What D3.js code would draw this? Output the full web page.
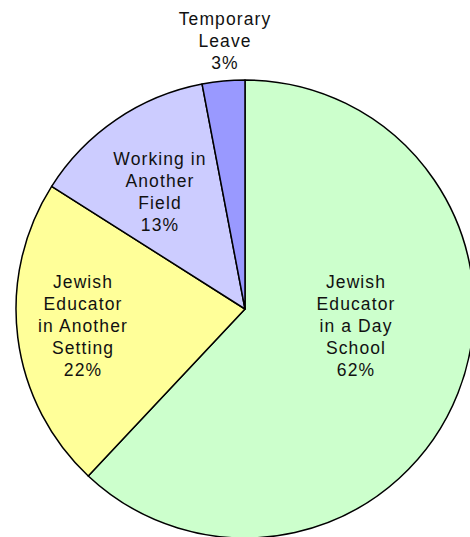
<!DOCTYPE html>
<html>
<head>
<meta charset="utf-8">
<script src="https://cdn.jsdelivr.net/npm/d3@7"></script>
<style>
  body { margin: 0; background: #fff; }
  .lbl { font-family: "Liberation Sans", Arial, sans-serif; font-size: 17.5px; fill: #111; letter-spacing: 1.1px; }
</style>
</head>
<body>
<svg id="chart" width="470" height="537"></svg>
<script>
const categories = ["Jewish Educator in a Day School", "Jewish Educator in Another Setting", "Working in Another Field", "Temporary Leave"];
const values = [62, 22, 13, 3];
const labelLines = [
  ["Jewish", "Educator", "in a Day", "School"],
  ["Jewish", "Educator", "in Another", "Setting"],
  ["Working in", "Another", "Field"],
  ["Temporary", "Leave"]
];
const colors = ["#CCFFCC", "#FFFF99", "#CCCCFF", "#9999FF"];

const cx = 245, cy = 309, radius = 229, lineH = 22;
// where each label block sits, relative to the pie centre (px, first baseline)
const labelPos = [[111, -21], [-162, -21], [-85, -144], [-20, -284]];

const svg = d3.select("#chart");
const g = svg.append("g").attr("transform", `translate(${cx},${cy})`);

const pie = d3.pie().sort(null).value(d => d.v);
const arc = d3.arc().innerRadius(0).outerRadius(radius);
const data = pie(categories.map((c, i) => ({ c, v: values[i], i })));

g.selectAll("path.slice")
  .data(data)
  .enter()
  .append("path")
  .attr("class", "slice")
  .attr("d", arc)
  .attr("fill", d => colors[d.data.i])
  .attr("stroke", "#000")
  .attr("stroke-width", 1.5)
  .attr("stroke-linejoin", "round");

const labels = g.selectAll("text.lbl")
  .data(data)
  .enter()
  .append("text")
  .attr("class", "lbl")
  .attr("text-anchor", "middle")
  .attr("transform", d => `translate(${labelPos[d.data.i][0]},${labelPos[d.data.i][1]})`);

labels.each(function(d) {
  const lines = labelLines[d.data.i].concat([d.data.v + "%"]);
  d3.select(this).selectAll("tspan")
    .data(lines)
    .enter()
    .append("tspan")
    .attr("x", 0)
    .attr("y", (t, k) => k * lineH)
    .text(t => t);
});
</script>
</body>
</html>
